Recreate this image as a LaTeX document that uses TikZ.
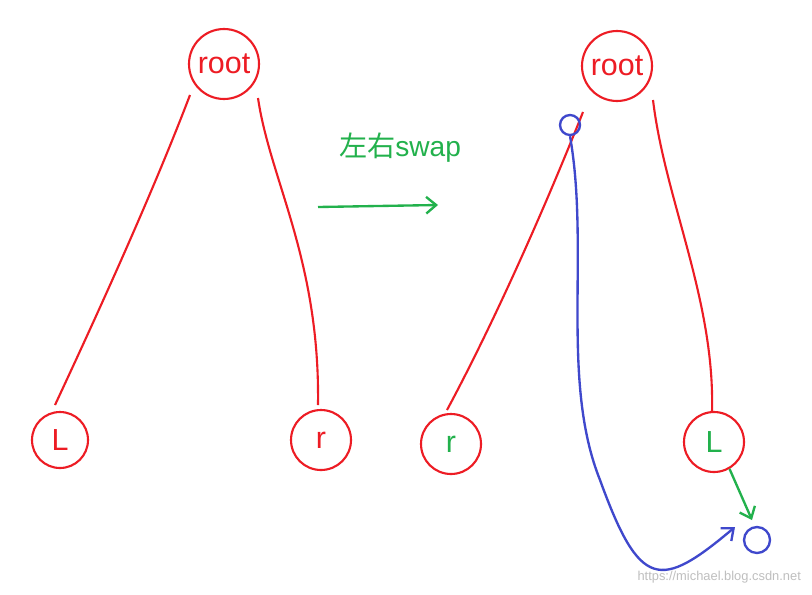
\documentclass[tikz,border=0pt]{standalone}
\usepackage{fontspec}
\setmainfont{Liberation Sans}
\newfontfamily\cjk{Noto Sans CJK SC}
\usetikzlibrary{arrows.meta}
\definecolor{hred}{RGB}{237,28,36}
\definecolor{hgreen}{RGB}{34,177,76}
\definecolor{hblue}{RGB}{63,72,204}
\tikzset{
  tn/.style={circle,draw=hred,line width=1.8pt,inner sep=0pt,font=\fontsize{26}{26}\selectfont},
  edge/.style={hred,line width=1.8pt},
  garrow/.style={hgreen,line width=2pt,-{Straight Barb[length=3mm,width=5mm]}},
}
\begin{document}
\begin{tikzpicture}[x=0.3mm,y=-0.3mm]
\useasboundingbox (0,0) rectangle (812,594);
\fill[white] (0,0) rectangle (812,594);
\node[tn,minimum size=70*0.3mm,text=hred] (root1) at (224,64) {root};
\node[tn,minimum size=56*0.3mm,text=hred] (l1) at (60,440) {L};
\node[tn,minimum size=60*0.3mm,text=hred] (r1) at (321,440) {r};
\node[tn,minimum size=70*0.3mm,text=hred] (root2) at (617,66) {root};
\node[tn,minimum size=60*0.3mm,text=hgreen] (r2) at (451,444) {r};
\node[tn,minimum size=60*0.3mm,text=hgreen] (l2) at (714,442) {L};
\coordinate (s1) at (190,95);
\coordinate (s2) at (258,98);
\coordinate (s3) at (583,112);
\coordinate (s4) at (653,100);
\draw[edge] (s1) .. controls (150,200) and (90,330) .. (55,405);
\draw[edge] (s2) .. controls (270,180) and (320,260) .. (318,405);
\draw[edge] (s3) .. controls (540,220) and (490,330) .. (447,410);
\draw[edge] (s4) .. controls (665,200) and (715,300) .. (712,412);
\coordinate (a1) at (318,207);
\coordinate (a2) at (438,205);
\draw[garrow] (a1) -- (a2);
\node[text=hgreen,font=\fontsize{24}{24}\selectfont] (sw) at (400,148) {{\cjk 左右}swap};
\node[circle,draw=hblue,line width=2pt,minimum size=20*0.3mm,inner sep=0pt] (b1) at (570,125) {};
\node[circle,draw=hblue,line width=2pt,minimum size=26*0.3mm,inner sep=0pt] (b2) at (757,540) {};
\draw[hblue,line width=2pt,-{Straight Barb[length=3mm,width=5mm]}] (b1.south) .. controls (590,250) and (560,380) .. (600,480) .. controls (640,590) and (660,590) .. (735,527);
\draw[garrow] (l2.300) -- (752,520);
\node[text=gray!50,font=\fontsize{11}{11}\selectfont,anchor=east] (wm) at (805,577) {https://michael.blog.csdn.net};
\end{tikzpicture}
\end{document}
